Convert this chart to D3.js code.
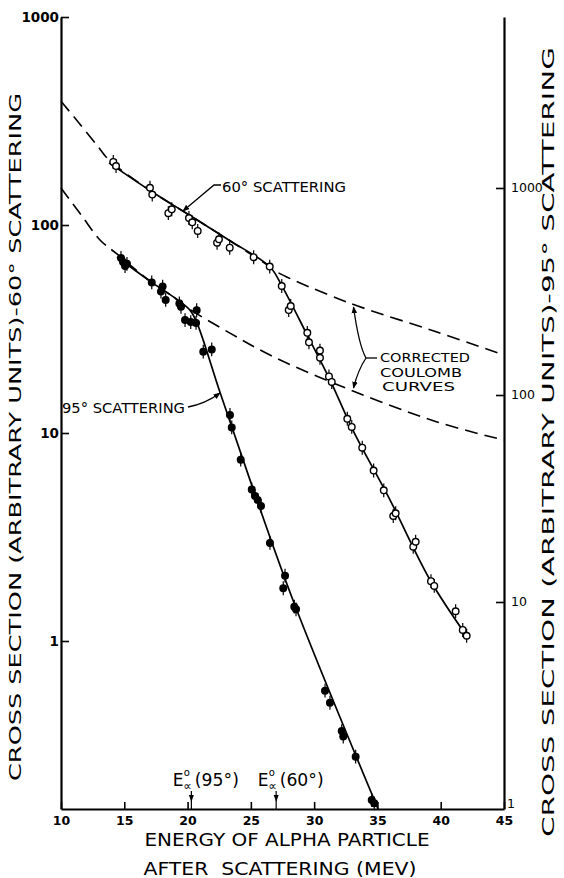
<!DOCTYPE html>
<html><head><meta charset="utf-8">
<script src="https://cdn.jsdelivr.net/npm/d3@7"></script>
<style>
body{margin:0;background:#fff;}
svg{display:block;}
text{font-family:"DejaVu Sans",sans-serif;fill:#000;}
</style></head><body>
<svg id="chart" width="564" height="878"></svg>
<script>
// ---------- data ----------
const xTicks = [10,15,20,25,30,35,40,45];
const leftTicks = [1,10,100,1000];
const rightTicks = [1,10,100,1000];

// 60 degree scattering (left axis)
const e60 = [14.13,14.35,17.03,17.21,18.48,18.75,20.11,20.37,20.80,22.33,22.48,23.33,25.22,26.49,27.44,27.99,28.15,29.46,29.59,30.46,30.46,31.17,31.39,32.62,32.97,33.8,34.7,35.5,36.25,36.44,37.83,38.02,39.23,39.49,41.18,41.74,42.05];
const s60 = [201,192,151,140,114,119,108,103,93.6,82.2,85.3,77.8,70.0,63.1,50.9,39.0,40.8,30.3,27.3,24.9,23.0,18.7,17.6,11.7,10.7,8.5,6.6,5.3,3.99,4.11,2.84,3.00,1.94,1.84,1.39,1.13,1.06];
const fit60E = [13.8,17.0,20.2,23.35,26.5,27.45,29.45,31.25,33.07,36.0,39.15,42.18];
const fit60S = [199,147,111,84,63,51,29.6,18.0,10.3,4.76,1.97,1.03];
const coul60E = [10,11.5,13.0,13.8,17.0,20.2,23.35,26.5,27.07,32.6,39.7,45];
const coul60S = [394,305,235,205,147,111,84,63,59.4,42.6,30.6,23.7];

// 95 degree scattering (right axis)
const e95 = [14.74,14.90,15.06,15.21,17.17,17.90,18.03,18.27,19.35,19.48,19.80,20.25,20.67,20.72,21.24,21.91,23.35,23.49,24.20,25.07,25.33,25.54,25.80,26.51,27.56,27.70,28.43,28.57,30.86,31.25,32.18,32.30,33.28,34.55,34.75];
const s95 = [459,439,420,430,350,316,334,288,277,267,230,225,223,257,162,166,80.1,69.7,48.7,35.0,32.5,31.1,29.1,19.3,11.65,13.4,9.49,9.22,3.73,3.26,2.38,2.24,1.79,1.105,1.065];
const fit95E = [14.42,17.03,19.01,20.19,20.74,22.56,24.93,28.33,35.05];
const fit95S = [464,355,294,257,223,103,38.9,10.2,1.0];
const coul95E = [10,11.6,13.08,14.42,17.03,19.01,20.03,23.35,26.51,31.25,39.71,45];
const coul95S = [1000,740,561,480,355,294,263,199,156,116,74.1,60.6];

// threshold energies
const eAlpha = [20.3, 27.0];
const eAlphaLabels = ["(95°)","(60°)"];

// ---------- chart ----------
const svg = d3.select("#chart");
const x = d3.scaleLinear().domain([10,45]).range([61,504]);
const yL = d3.scaleLog().domain([0.1557,1000]).range([809,17]);
const yR = d3.scaleLog().domain([1,6700]).range([809,17]);
const zip = (a,b)=>a.map((v,i)=>[v,b[i]]);

const defs = svg.append("defs");
defs.append("marker").attr("id","arr").attr("viewBox","0 0 10 10").attr("refX",9).attr("refY",5)
  .attr("markerWidth",7).attr("markerHeight",7).attr("markerUnits","userSpaceOnUse").attr("orient","auto")
  .append("path").attr("d","M0,1 L10,5 L0,9 Z").attr("fill","#000");

// axes
const gx = svg.append("g").attr("transform","translate(0,809)")
  .call(d3.axisBottom(x).tickValues(xTicks).tickSizeInner(-7).tickSizeOuter(0).tickPadding(7).tickFormat(d=>d));
const gl = svg.append("g").attr("transform","translate(61,0)")
  .call(d3.axisLeft(yL).tickValues(leftTicks).tickSizeInner(-8).tickSizeOuter(0).tickPadding(2).tickFormat(d=>d));
const gr = svg.append("g").attr("transform","translate(504,0)")
  .call(d3.axisRight(yR).tickValues(rightTicks).tickSizeInner(-8).tickSizeOuter(0).tickPadding(7).tickFormat(d=>d));
[gx,gl,gr].forEach(g=>{
  g.attr("font-family","DejaVu Sans").attr("font-weight","bold");
  g.select(".domain").attr("stroke-width",2.2);
  g.selectAll(".tick line").attr("stroke-width",1.6);
});
gx.attr("font-size",12.5);
gl.attr("font-size",13.5);
gr.attr("font-size",12.5).attr("font-weight","normal");
gr.selectAll(".tick").filter(d=>d===1).select("line").remove();
gr.selectAll(".tick").filter(d=>d===1).select("text").attr("x",3).attr("dy","-0.1em");

// curves
const lineL = d3.line().x(d=>x(d[0])).y(d=>yL(d[1])).curve(d3.curveCatmullRom.alpha(0.5));
const lineR = d3.line().x(d=>x(d[0])).y(d=>yR(d[1])).curve(d3.curveCatmullRom.alpha(0.5));

svg.append("path").attr("d",lineL(zip(coul60E,coul60S))).attr("fill","none").attr("stroke","#000")
  .attr("stroke-width",1.6).attr("stroke-dasharray","13,7");
svg.append("path").attr("d",lineR(zip(coul95E,coul95S))).attr("fill","none").attr("stroke","#000")
  .attr("stroke-width",1.6).attr("stroke-dasharray","13,7");
svg.append("path").attr("d",lineL(zip(fit60E,fit60S))).attr("fill","none").attr("stroke","#000").attr("stroke-width",1.7);
svg.append("path").attr("d",lineR(zip(fit95E,fit95S))).attr("fill","none").attr("stroke","#000").attr("stroke-width",1.7);

// points with error bars
const err = 1.08;
function pts(E,S,y,fill){
  const g = svg.append("g");
  const d = zip(E,S);
  g.selectAll("line").data(d).join("line")
    .attr("x1",p=>x(p[0])).attr("x2",p=>x(p[0]))
    .attr("y1",p=>y(p[1]*err)).attr("y2",p=>y(p[1]/err))
    .attr("stroke","#000").attr("stroke-width",1.2);
  g.selectAll("circle").data(d).join("circle")
    .attr("cx",p=>x(p[0])).attr("cy",p=>y(p[1])).attr("r",3.3)
    .attr("fill",fill).attr("stroke","#000").attr("stroke-width",1.4);
}
pts(e60,s60,yL,"#fff");
pts(e95,s95,yR,"#000");

// annotations
svg.append("text").attr("x",222).attr("y",192).attr("font-size",14).attr("textLength",124)
  .attr("lengthAdjust","spacingAndGlyphs").text("60° SCATTERING");
svg.append("path").attr("d","M221,185 L214,185 L183,211").attr("fill","none").attr("stroke","#000")
  .attr("stroke-width",1.3).attr("marker-end","url(#arr)");
svg.append("text").attr("x",62).attr("y",413).attr("font-size",14).attr("textLength",123)
  .attr("lengthAdjust","spacingAndGlyphs").text("95° SCATTERING");
svg.append("path").attr("d","M188,407 Q205,404 220,393").attr("fill","none").attr("stroke","#000")
  .attr("stroke-width",1.3).attr("marker-end","url(#arr)");

const ct = [["CORRECTED",380,362,90],["COULOMB",380,376.5,82],["CURVES",382,390.5,73]];
ct.forEach(c=>svg.append("text").attr("x",c[1]).attr("y",c[2]).attr("font-size",13)
  .attr("textLength",c[3]).attr("lengthAdjust","spacingAndGlyphs").text(c[0]));
svg.append("path").attr("d","M377,358 L366,358").attr("stroke","#000").attr("stroke-width",1.3);
svg.append("path").attr("d","M366,358 Q359,346 353.5,307").attr("fill","none").attr("stroke","#000")
  .attr("stroke-width",1.3).attr("marker-end","url(#arr)");
svg.append("path").attr("d","M366,358 Q358,370 353.5,388").attr("fill","none").attr("stroke","#000")
  .attr("stroke-width",1.3).attr("marker-end","url(#arr)");

// E alpha threshold markers
eAlpha.forEach((e,i)=>{
  const px = x(e);
  svg.append("line").attr("x1",px).attr("x2",px).attr("y1",791).attr("y2",809).attr("stroke","#000").attr("stroke-width",1.2);
  svg.append("path").attr("d",`M${px-2.5},795 L${px+2.5},795 L${px},802 Z`).attr("fill","#000");
  const lx = px - 18.5;
  svg.append("text").attr("x",lx).attr("y",786).attr("font-size",17).text("E");
  svg.append("text").attr("x",lx+11).attr("y",776).attr("font-size",10).text("o");
  svg.append("text").attr("x",lx+10.5).attr("y",790).attr("font-size",12).text("∝");
  svg.append("text").attr("x",lx+22).attr("y",786).attr("font-size",17).attr("textLength",44)
    .attr("lengthAdjust","spacingAndGlyphs").text(eAlphaLabels[i]);
});

// axis titles
svg.append("text").attr("x",287).attr("y",846).attr("text-anchor","middle").attr("font-size",18)
  .attr("textLength",285).attr("lengthAdjust","spacingAndGlyphs").text("ENERGY OF ALPHA PARTICLE");
svg.append("text").attr("x",280).attr("y",875).attr("text-anchor","middle").attr("font-size",17)
  .attr("textLength",273).attr("lengthAdjust","spacingAndGlyphs").attr("xml:space","preserve").text("AFTER  SCATTERING (MEV)");
svg.append("text").attr("transform","translate(21,437) rotate(-90)").attr("text-anchor","middle").attr("font-size",16)
  .attr("textLength",688).attr("lengthAdjust","spacingAndGlyphs").text("CROSS SECTION (ARBITRARY UNITS)-60° SCATTERING");
svg.append("text").attr("transform","translate(554,442) rotate(-90)").attr("text-anchor","middle").attr("font-size",16)
  .attr("textLength",790).attr("lengthAdjust","spacingAndGlyphs").text("CROSS SECTION (ARBITRARY UNITS)-95° SCATTERING");
</script>
</body></html>
